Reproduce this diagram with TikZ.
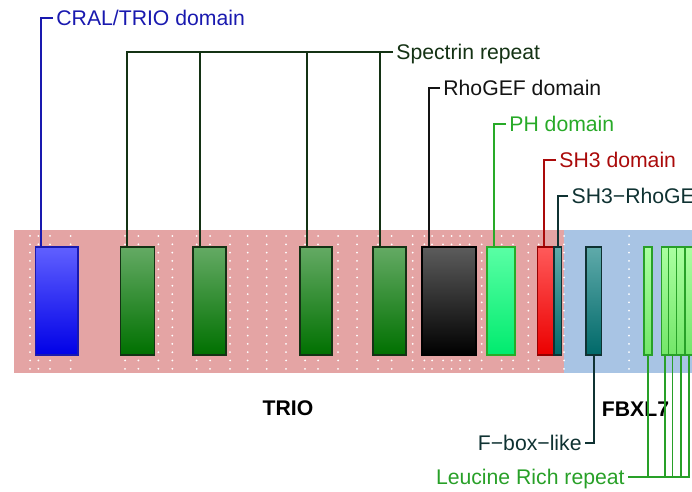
\documentclass[tikz,border=0pt]{standalone}
\usepackage{fontspec}
\setmainfont{Liberation Sans}
\usepackage{xcolor}
\usetikzlibrary{calc}
\definecolor{trioband}{RGB}{228,164,164}
\definecolor{fbxband}{RGB}{168,196,228}
\definecolor{cralc}{RGB}{25,25,175}
\definecolor{specc}{RGB}{20,50,20}
\definecolor{gefc}{RGB}{20,20,20}
\definecolor{phc}{RGB}{40,170,40}
\definecolor{shc}{RGB}{170,10,10}
\definecolor{tealc}{RGB}{15,50,50}
\definecolor{lrrc}{RGB}{40,160,40}

\begin{document}
\begin{tikzpicture}[x=0.5pt,y=-0.5pt,
  dom/.style={draw,line width=0.7pt,inner sep=0pt,minimum height=54pt},
  wd/.style={minimum width=#1*0.5pt},
  lab/.style={anchor=west,inner xsep=1.5pt,inner ysep=0pt,text height=7.6pt,text depth=0pt,font=\fontsize{10.6}{12}\selectfont},
  labr/.style={lab,anchor=east},
  lead/.style={line width=0.9pt}]
  \useasboundingbox (0,0) rectangle (692,492);
  \fill[trioband] (14,230) rectangle (563.5,373); \fill[fbxband] (563.5,230) rectangle (700,373);
  \foreach \x in {30,38.3,50,70.7,125,138.3,158.3,172.3,196.7,210,230,247.7,266.7,286,305,318,338,357,378,391.7,412.7,424.3,432,443,451.5,460,469.5,481.7,501.7,513,528.3,538.7,564,629}
    \foreach \y in {236,244.3,...,369} \fill[white] (\x,\y) circle (1);
  % TRIO domains
  \node[dom,wd=42.5,draw=cralc,top color={rgb,255:red,96;green,96;blue,255},bottom color={rgb,255:red,0;green,0;blue,230}] (cral) at (56.75,301) {};
  \foreach \n/\c/\w in {spec1/137.5/34,spec2/209.5/33,spec3/316/32,spec4/389.5/33}
    \node[dom,wd=\w,draw=specc,top color={rgb,255:red,100;green,170;blue,100},bottom color={rgb,255:red,0;green,112;blue,0}] (\n) at (\c,301) {};
  \node[dom,wd=54,draw=black,top color={rgb,255:red,92;green,92;blue,92},bottom color=black] (gef) at (449,301) {};
  \node[dom,wd=28,draw=phc,top color={rgb,255:red,90;green,255;blue,165},bottom color={rgb,255:red,0;green,235;blue,110}] (ph) at (501,301) {};
  \node[dom,wd=16.5,draw={rgb,255:red,150;green,0;blue,0},top color={rgb,255:red,255;green,90;blue,90},bottom color={rgb,255:red,235;green,0;blue,0}] (sh3) at (545.75,301) {};
  \node[dom,wd=7.5,draw=tealc,top color={rgb,255:red,95;green,170;blue,170},bottom color={rgb,255:red,0;green,105;blue,105}] (link) at (557.75,301) {};
  % FBXL7 domains
  \node[dom,wd=15.5,draw=tealc,top color={rgb,255:red,95;green,170;blue,170},bottom color={rgb,255:red,0;green,105;blue,105}] (fbox) at (593.75,301) {};
  \foreach \n/\c/\w in {lrr1/648/8,lrr2/664.8/7,lrr3/672.5/8.4,lrr4/680.8/8.3,lrr5/689.2/8.3}
    \node[dom,wd=\w,draw=lrrc,top color={rgb,255:red,170;green,255;blue,160},bottom color={rgb,255:red,115;green,230;blue,105}] (\n) at (\c,301) {};
  \node[font=\fontsize{10.6}{12}\selectfont\bfseries] (trio) at (288,408) {TRIO};
  \node[font=\fontsize{10.6}{12}\selectfont\bfseries] (fbxl) at (635.5,409) {FBXL7};
  % labels
  \node[lab,text=cralc] (cralL) at (53,18) {CRAL/TRIO domain};
  \node[lab,text=specc] (specL) at (393,51.7) {Spectrin repeat};
  \node[lab,text=gefc] (gefL) at (440,88.3) {RhoGEF domain};
  \node[lab,text=phc] (phL) at (506,124) {PH domain};
  \node[lab,text=shc] (sh3L) at (556,160) {SH3 domain};
  \node[lab,text=tealc] (linkL) at (568.3,196) {SH3−RhoGEF};
  \node[labr,text=tealc] (fboxL) at (585,443) {F−box−like};
  \node[labr,text=lrrc] (lrrL) at (628,477.3) {Leucine Rich repeat};
  % leaders
  \draw[lead,cralc] (cralL.west) -| ($(cral.north west)+(6.5,0)$);
  \draw[lead,specc] (specL.west) -| ($(spec1.north west)+(7.5,0)$);
  \foreach \n in {spec2,spec3,spec4} {
    \coordinate (t\n) at ($(\n.north west)+(7.7,0)$);
    \draw[lead,specc] (t\n) -- (t\n |- specL.west); }
  \draw[lead,gefc] (gefL.west) -| ($(gef.north west)+(7.6,0)$);
  \draw[lead,phc] (phL.west) -| ($(ph.north west)+(8,0)$);
  \draw[lead,shc] (sh3L.west) -| ($(sh3.north west)+(7.5,0)$);
  \draw[lead,tealc] (linkL.west) -| (link.north);
  \draw[lead,tealc] (fbox.south) |- (fboxL.east);
  \draw[lead,lrrc] (lrrL.east) -| (lrr5.south);
  \foreach \n in {lrr1,lrr2,lrr3,lrr4} \draw[lead,lrrc] (\n.south) -- (\n.south |- lrrL.east);
\end{tikzpicture}
\end{document}
